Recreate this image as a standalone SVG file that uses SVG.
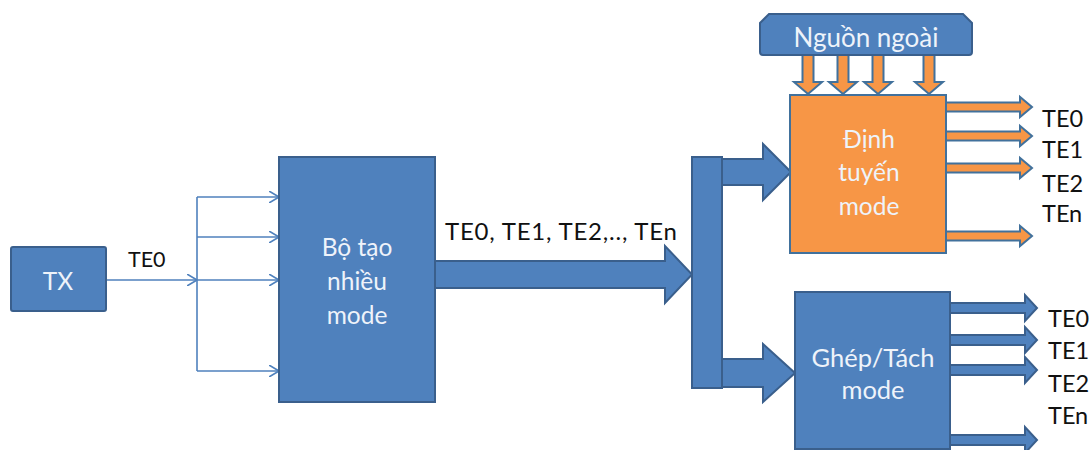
<svg xmlns="http://www.w3.org/2000/svg" width="1092" height="450" viewBox="0 0 1092 450">
  <style>
    .blk { fill: #4F81BD; stroke: #3A5F8C; stroke-width: 2; }
    .org { fill: #F79646; stroke: #41719C; stroke-width: 2; }
    .thin { fill: none; stroke: #4F81BD; stroke-width: 1.6; }
    .in { font-family: Lato, "Noto Sans", sans-serif; font-size: 24.5px; fill: #EEF3FA; text-anchor: middle; }
    .lbl { font-family: Lato, "Noto Sans", sans-serif; font-size: 23.5px; fill: #111111; }
  </style>
  <defs>
    <marker id="chev" viewBox="0 0 10 12" refX="10" refY="6" markerWidth="10" markerHeight="12" markerUnits="userSpaceOnUse" orient="auto">
      <path d="M0,0 L10,6 L0,12" fill="none" stroke="#4F81BD" stroke-width="1.6"/>
    </marker>
  </defs>

  <!-- connectors -->
  <g id="connectors">
    <!-- TX to splitter -->
    <line class="thin" x1="106" y1="280" x2="197" y2="280" marker-end="url(#chev)"/>
    <line class="thin" x1="197" y1="197" x2="197" y2="371"/>
    <line class="thin" x1="197" y1="197" x2="279" y2="197" marker-end="url(#chev)"/>
    <line class="thin" x1="197" y1="237" x2="279" y2="237" marker-end="url(#chev)"/>
    <line class="thin" x1="197" y1="280" x2="279" y2="280" marker-end="url(#chev)"/>
    <line class="thin" x1="197" y1="371" x2="279" y2="371" marker-end="url(#chev)"/>
    <text class="lbl" x="128" y="267" style="font-size:21.5px">TE0</text>

    <!-- multimode bus -->
    <polygon class="blk" points="435,261 665,261 665,246 692,274.5 665,303 665,288 435,288"/>
    <text class="lbl" x="445" y="240" style="font-size:24px" textLength="232" lengthAdjust="spacing">TE0, TE1, TE2,.., TEn</text>

    <!-- distribution bar and branches -->
    <polygon class="blk" points="722,159 763,159 763,144 791,172 763,200 763,185 722,185"/>
    <polygon class="blk" points="722,359 763,359 763,344 795,373 763,402 763,387 722,387"/>
    <rect class="blk" x="692" y="157" width="30" height="231"/>

    <!-- external source feeds -->
    <polygon class="org" points="802.5,55 813.5,55 813.5,82 822,82 808,94 794,82 802.5,82"/>
    <polygon class="org" points="837.5,55 848.5,55 848.5,82 857,82 843,94 829,82 837.5,82"/>
    <polygon class="org" points="872.5,55 883.5,55 883.5,82 892,82 878,94 864,82 872.5,82"/>
    <polygon class="org" points="923.5,55 934.5,55 934.5,82 943,82 929,94 915,82 923.5,82"/>

    <!-- router outputs -->
    <polygon class="org" points="946,102.5 1020,102.5 1020,97 1032,107 1020,117 1020,111.5 946,111.5"/>
    <polygon class="org" points="946,131.5 1020,131.5 1020,126 1032,136 1020,146 1020,140.5 946,140.5"/>
    <polygon class="org" points="946,163.5 1020,163.5 1020,158 1032,168 1020,178 1020,172.5 946,172.5"/>
    <polygon class="org" points="946,231.5 1020,231.5 1020,226 1032,236 1020,246 1020,240.5 946,240.5"/>

    <!-- mux/demux outputs -->
    <polygon class="blk" points="950,303 1025,303 1025,295 1037,308 1025,321 1025,313 950,313"/>
    <polygon class="blk" points="950,335 1025,335 1025,327 1037,340 1025,353 1025,345 950,345"/>
    <polygon class="blk" points="950,365 1025,365 1025,357 1037,370 1025,383 1025,375 950,375"/>
    <polygon class="blk" points="950,435 1025,435 1025,427 1037,440 1025,453 1025,445 950,445"/>

    <text class="lbl" x="1042" y="127">TE0</text>
    <text class="lbl" x="1042" y="158">TE1</text>
    <text class="lbl" x="1042" y="192">TE2</text>
    <text class="lbl" x="1042" y="222">TEn</text>

    <text class="lbl" x="1048" y="327">TE0</text>
    <text class="lbl" x="1048" y="359">TE1</text>
    <text class="lbl" x="1048" y="392">TE2</text>
    <text class="lbl" x="1048" y="424">TEn</text>
  </g>

  <g id="tx">
    <rect class="blk" x="11" y="247" width="95" height="64" rx="2"/>
    <text class="in" x="58" y="290">TX</text>
  </g>

  <g id="generator">
    <rect class="blk" x="279" y="157" width="156" height="245"/>
    <text class="in" x="357" y="256">Bộ tạo</text>
    <text class="in" x="357" y="290">nhiều</text>
    <text class="in" x="357" y="324">mode</text>
  </g>

  <g id="source">
    <path class="blk" d="M760,23 L769,14 L963,14 L972,23 L972,52 Q972,55 969,55 L763,55 Q760,55 760,52 Z"/>
    <text class="in" x="866" y="47" style="font-size:26px">Nguồn ngoài</text>
  </g>

  <g id="router">
    <rect class="org" x="790" y="95" width="156" height="158"/>
    <text class="in" x="869" y="148">Định</text>
    <text class="in" x="869" y="181">tuyến</text>
    <text class="in" x="869" y="215">mode</text>
  </g>

  <g id="muxdemux">
    <rect class="blk" x="795" y="292" width="155" height="157"/>
    <text class="in" x="873" y="367" style="font-size:25.5px">Ghép/Tách</text>
    <text class="in" x="873" y="399" style="font-size:25.5px">mode</text>
  </g>
</svg>
